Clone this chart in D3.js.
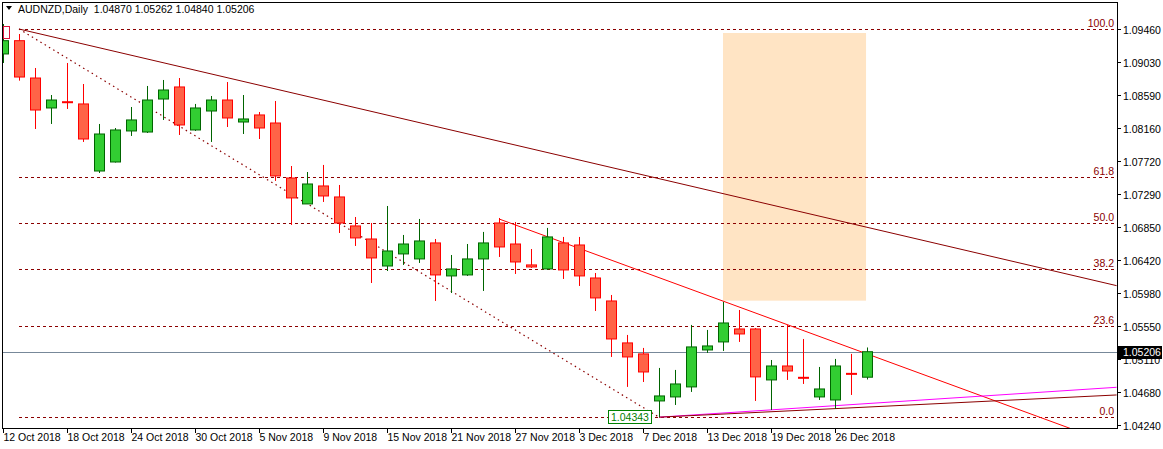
<!DOCTYPE html>
<html><head><meta charset="utf-8">
<script src="https://cdn.jsdelivr.net/npm/d3@7"></script>
<style>body{margin:0;background:#fff}svg{display:block}text{font-family:"Liberation Sans",Arial,sans-serif;font-size:10.5px}</style>
</head><body><svg id="c" width="1163" height="449"></svg>
<script>
const opens =[1.09131,1.09306,1.08814,1.08419,1.08500,1.08472,1.07588,1.07707,1.08116,1.08102,1.08537,1.08696,1.08129,1.08379,1.08524,1.08234,1.08327,1.08221,1.07496,1.07154,1.07391,1.07246,1.06864,1.06692,1.06336,1.06495,1.06429,1.06640,1.06205,1.06218,1.06429,1.06903,1.06626,1.06350,1.06297,1.06640,1.06613,1.06178,1.05875,1.05322,1.05177,1.04557,1.04610,1.04742,1.05229,1.05335,1.05506,1.05506,1.04834,1.05018,1.04866,1.04610,1.04570,1.04918,1.04870];
const highs =[1.09526,1.09394,1.08946,1.08590,1.09012,1.08735,1.08208,1.08155,1.08432,1.08709,1.08788,1.08814,1.08472,1.08577,1.08761,1.08590,1.08366,1.08511,1.07654,1.07575,1.07668,1.07404,1.06982,1.06903,1.07127,1.06745,1.06956,1.06692,1.06481,1.06626,1.06785,1.06969,1.06916,1.06560,1.06838,1.06719,1.06719,1.06244,1.05954,1.05427,1.05256,1.04992,1.04966,1.05559,1.05493,1.05862,1.05756,1.05519,1.05097,1.05559,1.05374,1.05005,1.05111,1.05177,1.05262];
const lows  =[1.09012,1.08779,1.08142,1.08208,1.08406,1.07971,1.07562,1.07700,1.08050,1.08089,1.08261,1.08063,1.08116,1.07971,1.08168,1.08076,1.08010,1.07457,1.06877,1.07154,1.07180,1.06771,1.06600,1.06112,1.06270,1.06350,1.06376,1.05875,1.05980,1.06205,1.06007,1.06455,1.06231,1.06310,1.06284,1.06165,1.06073,1.05743,1.05137,1.04742,1.04807,1.04343,1.04504,1.04676,1.05190,1.05216,1.05335,1.04557,1.04438,1.04834,1.04781,1.04570,1.04452,1.04636,1.04840];
const closes=[1.09306,1.08827,1.08392,1.08524,1.08490,1.08010,1.08076,1.08129,1.08261,1.08524,1.08656,1.08195,1.08419,1.08524,1.08287,1.08274,1.08155,1.07523,1.07233,1.07417,1.07259,1.06903,1.06706,1.06442,1.06534,1.06626,1.06666,1.06218,1.06297,1.06429,1.06640,1.06587,1.06389,1.06323,1.06719,1.06284,1.06205,1.05915,1.05374,1.05137,1.04939,1.04623,1.04781,1.05269,1.05282,1.05585,1.05440,1.04874,1.05018,1.04952,1.04858,1.04715,1.05018,1.04910,1.05206];
const dateTicks=[[0,"12 Oct 2018"],[4,"18 Oct 2018"],[8,"24 Oct 2018"],[12,"30 Oct 2018"],[16,"5 Nov 2018"],[20,"9 Nov 2018"],[24,"15 Nov 2018"],[28,"21 Nov 2018"],[32,"27 Nov 2018"],[36,"3 Dec 2018"],[40,"7 Dec 2018"],[44,"13 Dec 2018"],[48,"19 Dec 2018"],[52,"26 Dec 2018"]];
const priceTicks=[1.09460,1.09030,1.08590,1.08160,1.07720,1.07290,1.06850,1.06420,1.05980,1.05550,1.05110,1.04680,1.04240];
const fibLevels=[[0,"0.0"],[23.6,"23.6"],[38.2,"38.2"],[50,"50.0"],[61.8,"61.8"],[100,"100.0"]];
const fibHigh=1.09460, fibLow=1.04343, fibStart=1, fibEnd=41;
const trend1=[[1,1.09460],[69.6,1.06077]];
const trend2=[[31,1.06956],[56.06,1.05018]];
const trend3=[[41,1.04343],[69.6,1.04737]];
const trend4=[[41,1.04343],[69.6,1.04636]];
const zone={i0:45,i1:53.94,top:1.09407,bottom:1.05879};
const lastPrice=1.05206;

const svg=d3.select("#c");
const L=2,R=1117,T=2,B=428;
const x=d3.scaleLinear().domain([0,1]).range([3,19]);
const y=d3.scaleLinear().domain([1.04240,1.09460]).range([425,29]);
svg.append("clipPath").attr("id","cl").append("rect").attr("x",L).attr("y",T).attr("width",R-L).attr("height",B-T);
const g=svg.append("g").attr("clip-path","url(#cl)");
g.append("rect").attr("x",x(zone.i0)).attr("y",y(zone.top)).attr("width",x(zone.i1)-x(zone.i0)).attr("height",y(zone.bottom)-y(zone.top)).attr("fill","#FFE4C4");
fibLevels.forEach(([lv,lab])=>{const p=fibLow+(fibHigh-fibLow)*lv/100;const yy=Math.round(y(p))+0.5;
 g.append("line").attr("x1",x(fibStart)).attr("x2",R).attr("y1",yy).attr("y2",yy).attr("stroke","#8B0000").attr("stroke-dasharray","3,3");
 g.append("text").attr("x",R-3).attr("y",yy-3).attr("text-anchor","end").attr("fill","#8B0000").text(lab);});
g.append("line").attr("x1",x(fibStart)).attr("y1",y(fibHigh)).attr("x2",x(fibEnd)).attr("y2",y(fibLow)).attr("stroke","#8B0000").attr("stroke-width",1.2).attr("stroke-dasharray","1.5,3.5");
g.append("line").attr("x1",L).attr("x2",R).attr("y1",Math.round(y(lastPrice))+0.5).attr("y2",Math.round(y(lastPrice))+0.5).attr("stroke","#778899");
const ln=(pts,col,ext)=>{let [a,b]=pts;let xe=b[0],ye=b[1];
 if(ext){xe=a[0]+(b[0]-a[0])*4;ye=a[1]+(b[1]-a[1])*4;}
 g.append("line").attr("x1",x(a[0])).attr("y1",y(a[1])).attr("x2",x(xe)).attr("y2",y(ye)).attr("stroke",col);};
ln(trend1,"#8B0000");ln(trend2,"#FF0000",true);ln(trend3,"#FF00FF");ln(trend4,"#8B0000");
opens.forEach((o,i)=>{const c=closes[i],up=c>=o;const col=up?"#006400":"#FF0000",fill=up?"#32CD32":"#FF6347";
 const cx=Math.round(x(i))+0.5;
 g.append("line").attr("x1",cx).attr("x2",cx).attr("y1",y(highs[i])).attr("y2",y(lows[i])).attr("stroke",col);
 const t=y(Math.max(o,c)),b=y(Math.min(o,c));
 if(b-t<2){g.append("rect").attr("x",cx-5.5).attr("y",(t+b)/2-1).attr("width",11).attr("height",2).attr("fill",col);}
 else g.append("rect").attr("x",cx-5).attr("y",t).attr("width",10).attr("height",b-t).attr("fill",fill).attr("stroke",col);});
svg.append("rect").attr("x",L+0.5).attr("y",T+0.5).attr("width",R-L).attr("height",B-T).attr("fill","none").attr("stroke","#000");
priceTicks.forEach(p=>{const yy=Math.round(y(p))+0.5;
 svg.append("line").attr("x1",R).attr("x2",R+4).attr("y1",yy).attr("y2",yy).attr("stroke","#000");
 svg.append("text").attr("x",R+6).attr("y",yy+4).text(p.toFixed(5));});
const ly=Math.round(y(lastPrice));
svg.append("rect").attr("x",R+1).attr("y",ly-6).attr("width",44).attr("height",13).attr("fill","#000");
svg.append("text").attr("x",R+6).attr("y",ly+4).attr("fill","#fff").text(lastPrice.toFixed(5));
dateTicks.forEach(([i,lab])=>{const xx=Math.round(x(i))+0.5;
 svg.append("line").attr("x1",xx).attr("x2",xx).attr("y1",B).attr("y2",B+5).attr("stroke","#000");
 svg.append("text").attr("x",xx).attr("y",B+13).text(lab);});
svg.append("rect").attr("x",608.5).attr("y",410.5).attr("width",43).attr("height",13).attr("fill","#fff").attr("stroke","#008000");
svg.append("text").attr("x",611).attr("y",421).attr("fill","#008000").text(fibLow.toFixed(5));
svg.append("rect").attr("x",3.5).attr("y",26.5).attr("width",6).attr("height",12).attr("fill","#fff").attr("stroke","#DC143C");
svg.append("path").attr("d","M6,6 L12,6 L9,10 Z").attr("fill","#000");
svg.append("text").attr("x",18).attr("y",13).attr("xml:space","preserve").text("AUDNZD,Daily  1.04870 1.05262 1.04840 1.05206");
</script></body></html>
